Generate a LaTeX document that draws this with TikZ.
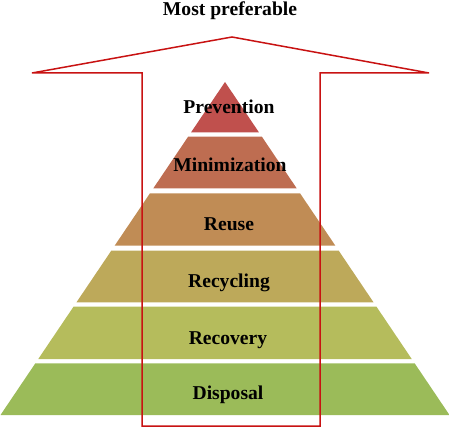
\documentclass[tikz,border=0pt]{standalone}
\usepackage{fontspec}
\setmainfont{Liberation Serif}
\definecolor{cPrev}{HTML}{C0504D}
\definecolor{cMin}{HTML}{BE6D51}
\definecolor{cReuse}{HTML}{C08C55}
\definecolor{cRecyc}{HTML}{BDA95A}
\definecolor{cRecov}{HTML}{B5BC5C}
\definecolor{cDisp}{HTML}{9BBB59}
\definecolor{arrowred}{RGB}{200,18,18}
\newcommand{\pyrlayer}[3]{%
  \pgfmathsetmacro{\pyrTop}{0.67417*(#1-82)}%
  \pgfmathsetmacro{\pyrBot}{0.67417*(#2-82)}%
  \fill[#3] (225-\pyrTop,#1) -- (225+\pyrTop,#1) -- (225+\pyrBot,#2) -- (225-\pyrBot,#2) -- cycle;}
\begin{document}
\begin{tikzpicture}[x=1pt,y=-1pt,
  lbl/.style={anchor=base,font=\fontsize{19.6}{22}\selectfont\bfseries,text=black,inner sep=0pt},
  arrowline/.style={draw=arrowred,line width=1.5pt,line join=miter}]
\useasboundingbox (0,0) rectangle (449,430);
\pyrlayer{82}{132.3}{cPrev}
\pyrlayer{136.7}{188.3}{cMin}
\pyrlayer{193.3}{245.7}{cReuse}
\pyrlayer{250.7}{302.3}{cRecyc}
\pyrlayer{306.7}{359}{cRecov}
\pyrlayer{363.3}{415}{cDisp}
\node[lbl] (prev) at (229,113.3) {Prevention};
\node[lbl] (mini) at (230,171.7) {Minimization};
\node[lbl] (reuse) at (229,230.7) {Reuse};
\node[lbl] (recyc) at (229,287) {Recycling};
\node[lbl] (recov) at (228,344) {Recovery};
\node[lbl] (disp) at (228,399.3) {Disposal};
\draw[arrowline] (142,426) -- (142,73) -- (32,73) -- (232,37) -- (429,73) -- (320,73) -- (320,426) -- cycle;
\node[lbl] (top) at (230,16) {Most preferable};
\end{tikzpicture}
\end{document}
